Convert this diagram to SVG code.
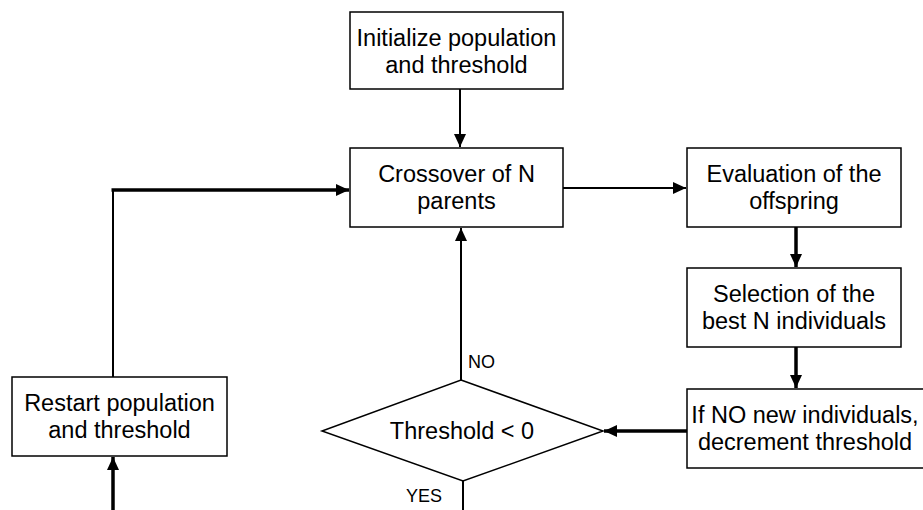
<svg xmlns="http://www.w3.org/2000/svg" width="923" height="510" viewBox="0 0 923 510">
<style>
.box{fill:#fff;stroke:#000;stroke-width:1.5}
.t{font-family:"Liberation Sans",Arial,sans-serif;font-size:23.5px;fill:#000;text-anchor:middle}
.lbl{font-family:"Liberation Sans",Arial,sans-serif;font-size:18px;fill:#000}
.thin{fill:none;stroke:#000;stroke-width:2}
.thick{fill:none;stroke:#000;stroke-width:3.5}
</style>
<defs>
<marker id="ah" markerUnits="userSpaceOnUse" markerWidth="14" markerHeight="14" refX="13" refY="7" orient="auto">
<path d="M0,1 L13,7 L0,13 z" fill="#000"/>
</marker>
</defs>
<rect width="923" height="510" fill="#fff"/>
<g id="connectors">
<path class="thin" d="M460,89 L460,147" marker-end="url(#ah)"/>
<path class="thin" d="M563,188 L686,188" marker-end="url(#ah)"/>
<path class="thick" d="M796,227 L796,267" marker-end="url(#ah)"/>
<path class="thick" d="M796,347 L796,388" marker-end="url(#ah)"/>
<path class="thick" d="M687,431 L604,431" marker-end="url(#ah)"/>
<path class="thin" d="M461,380 L461,228" marker-end="url(#ah)"/>
<path class="thin" d="M463,481 L463,510"/>
<path class="thin" d="M113,377 L113,189"/>
<path class="thick" d="M111.5,190 L349,190" marker-end="url(#ah)"/>
<path class="thick" d="M113,510 L113,457" marker-end="url(#ah)"/>
</g>
<g id="init">
<rect class="box" x="350" y="12" width="213" height="77"/>
<text class="t" x="456.5" y="46">Initialize population</text>
<text class="t" x="456.5" y="73">and threshold</text>
</g>
<g id="crossover">
<rect class="box" x="350" y="148" width="213" height="79"/>
<text class="t" x="456.5" y="182">Crossover of N</text>
<text class="t" x="456.5" y="209">parents</text>
</g>
<g id="evaluation">
<rect class="box" x="687" y="148" width="214" height="79"/>
<text class="t" x="794" y="182">Evaluation of the</text>
<text class="t" x="794" y="209">offspring</text>
</g>
<g id="selection">
<rect class="box" x="687" y="268" width="214" height="79"/>
<text class="t" x="794" y="302">Selection of the</text>
<text class="t" x="794" y="329">best N individuals</text>
</g>
<g id="decrement">
<rect class="box" x="687" y="389" width="240" height="79"/>
<text class="t" x="805" y="423">If NO new individuals,</text>
<text class="t" x="805" y="450">decrement threshold</text>
</g>
<g id="decision">
<polygon class="box" points="461,380 603,431 463,481 322,431"/>
<text class="t" x="462" y="439">Threshold &lt; 0</text>
<text class="lbl" x="468" y="368">NO</text>
<text class="lbl" x="406" y="502">YES</text>
</g>
<g id="restart">
<rect class="box" x="12" y="377" width="215" height="79"/>
<text class="t" x="119.5" y="411">Restart population</text>
<text class="t" x="119.5" y="438">and threshold</text>
</g>
</svg>
